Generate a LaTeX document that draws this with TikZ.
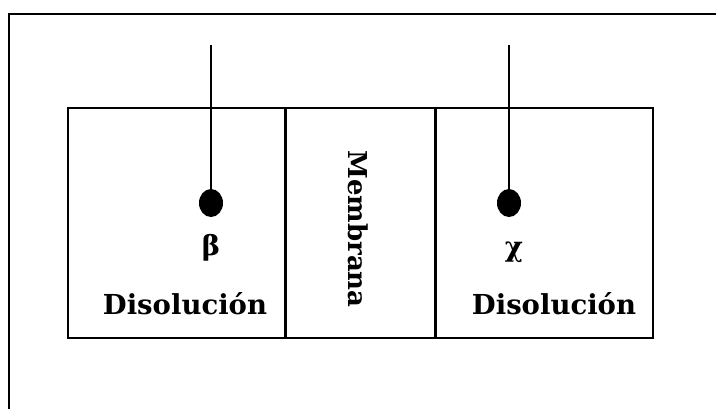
\documentclass[tikz,border=0pt]{standalone}
\usepackage{fontspec}
\setmainfont{DejaVu Serif}
\usetikzlibrary{positioning,shapes.geometric}
\tikzset{
  cell/.style={draw,line width=1.5pt,minimum height=230pt,inner sep=0pt},
  wall/.style={line width=2.8pt},
  wire/.style={line width=1.3pt},
  drop/.style={ellipse,fill=black,minimum width=24pt,minimum height=28pt,inner sep=0pt},
  label text/.style={font=\bfseries\fontsize{27.5}{30}\selectfont,inner sep=0pt}
}

\begin{document}
\begin{tikzpicture}[x=1pt,y=-1pt]
  \path[use as bounding box] (0,0) rectangle (716,408);
  \fill[white] (0,0) rectangle (716,408);

  % outer frame, only top and left edges show
  \draw[line width=2.2pt] (9,410) -- (9,14) -- (718,14);

  % the three compartments
  \node[cell,minimum width=218pt,anchor=north west] (left) at (67,107) {};
  \node[cell,minimum width=149pt,anchor=north west] (membrane) at (285,107) {};
  \node[cell,minimum width=218pt,anchor=north west] (right) at (434,107) {};
  \draw[wall] (membrane.north west) -- (membrane.south west);
  \draw[wall] (membrane.north east) -- (membrane.south east);

  \node[label text,font=\bfseries\fontsize{26}{30}\selectfont,rotate=-90] (membtext) at (358,229) {Membrana};

  % electrodes
  \coordinate (betatop) at (211,45);
  \node[drop] (betadot) at (211,203) {};
  \draw[wire] (betatop) -- (betadot.center);
  \node[label text] (beta) at (211,248) {β};
  \node[label text] (lefttext) at (185,304) {Disolución};

  \coordinate (chitop) at (509,45);
  \node[drop] (chidot) at (509,203) {};
  \draw[wire] (chitop) -- (chidot.center);
  \node[label text] (chi) at (514,252) {χ};
  \node[label text] (righttext) at (554,304) {Disolución};
\end{tikzpicture}
\end{document}
